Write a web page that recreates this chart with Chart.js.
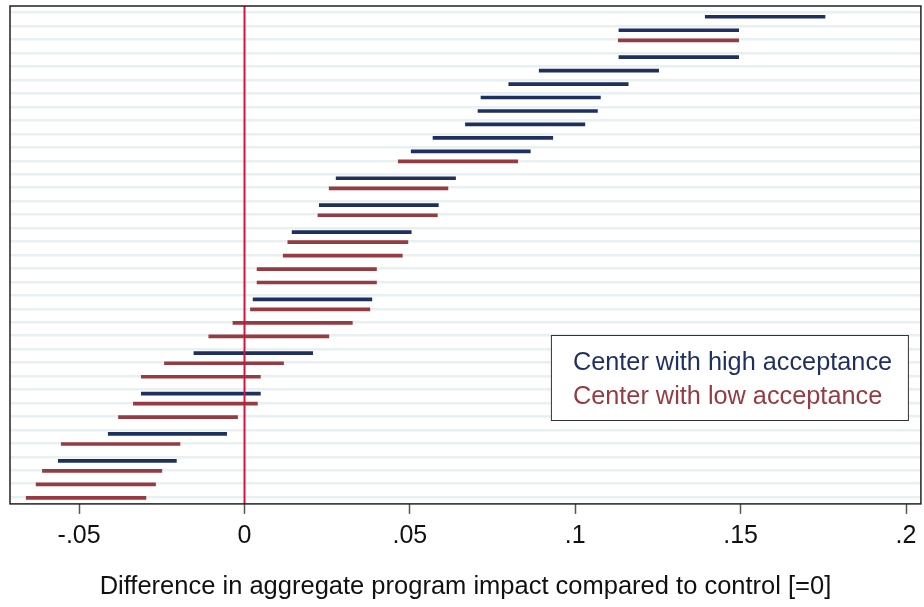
<!DOCTYPE html>
<html>
<head>
<meta charset="utf-8">
<script src="https://cdn.jsdelivr.net/npm/chart.js@4.4.1/dist/chart.umd.min.js"></script>
<style>
  body { margin: 0; background: #fff; }
  #wrap { width: 924px; height: 607px; }
</style>
</head>
<body>
<div id="wrap"><canvas id="chart"></canvas></div>
<script>
// Row positions (0 = top) and interval ends
const highY  = [0.8, 1.8, 3.8, 4.8, 5.8, 6.8, 7.8, 8.8, 9.8, 10.8, 12.8, 14.8, 16.8, 21.8, 25.8, 28.8, 31.8, 33.8];
const highLo = [0.1393, 0.1132, 0.1132, 0.0891, 0.0799, 0.0715, 0.0706, 0.0668, 0.0570, 0.0504, 0.0277, 0.0226, 0.0144, 0.0026, -0.0153, -0.0312, -0.0412, -0.0563];
const highHi = [0.1755, 0.1494, 0.1494, 0.1252, 0.1160, 0.1076, 0.1067, 0.1029, 0.0932, 0.0864, 0.0638, 0.0586, 0.0504, 0.0385, 0.0206, 0.0048, -0.0054, -0.0206];

const lowY  = [2.55, 11.55, 13.55, 15.55, 17.55, 18.55, 19.55, 20.55, 22.55, 23.55, 24.55, 26.55, 27.55, 29.55, 30.55, 32.55, 34.55, 35.55, 36.55];
const lowLo = [0.1130, 0.0465, 0.0256, 0.0222, 0.0131, 0.0117, 0.0038, 0.0038, 0.0018, -0.0035, -0.0108, -0.0242, -0.0312, -0.0336, -0.0381, -0.0554, -0.0611, -0.0630, -0.0660];
const lowHi = [0.1494, 0.0826, 0.0615, 0.0583, 0.0494, 0.0477, 0.0399, 0.0399, 0.0379, 0.0326, 0.0255, 0.0118, 0.0048, 0.0039, -0.0021, -0.0195, -0.0250, -0.0269, -0.0298];

const tickValues = [-0.05, 0, 0.05, 0.1, 0.15, 0.2];
const tickLabels = ['-.05', '0', '.05', '.1', '.15', '.2'];

const NAVY = '#1f2f5e';
const MAROON = '#963b42';
const FONT = "'Liberation Sans', Arial, sans-serif";

function rows(ys, lo, hi) {
    return ys.map((y, i) => ({ x: [lo[i], hi[i]], y: y }));
}

// zero line, plot frame and the boxed legend
const decorations = {
    id: 'decorations',
    afterDatasetsDraw(chart) {
        const ctx = chart.ctx;
        const area = chart.chartArea;
        const x0 = chart.scales.x.getPixelForValue(0);
        ctx.save();
        ctx.strokeStyle = '#d2143f';
        ctx.lineWidth = 2;
        ctx.beginPath();
        ctx.moveTo(x0, area.top);
        ctx.lineTo(x0, area.bottom);
        ctx.stroke();

        ctx.strokeStyle = '#222';
        ctx.lineWidth = 1.5;
        ctx.strokeRect(area.left, area.top, area.right - area.left, area.bottom - area.top);

        const bx = area.right - 370, by = area.top + 329, bw = 357, bh = 85;
        ctx.fillStyle = '#fff';
        ctx.fillRect(bx, by, bw, bh);
        ctx.strokeStyle = '#333';
        ctx.lineWidth = 1;
        ctx.strokeRect(bx + 0.5, by + 0.5, bw, bh);
        ctx.font = '25.3px ' + FONT;
        ctx.textBaseline = 'alphabetic';
        chart.data.datasets.forEach((ds, i) => {
            ctx.fillStyle = ds.backgroundColor;
            ctx.fillText(ds.label, bx + 22, by + 35 + i * 34);
        });
        ctx.restore();
    }
};

new Chart(document.getElementById('chart'), {
    type: 'bar',
    data: {
        datasets: [
            {
                label: 'Center with high acceptance',
                data: rows(highY, highLo, highHi),
                backgroundColor: NAVY,
                barThickness: 3,
                grouped: false
            },
            {
                label: 'Center with low acceptance',
                data: rows(lowY, lowLo, lowHi),
                backgroundColor: MAROON,
                barThickness: 3,
                grouped: false
            }
        ]
    },
    options: {
        indexAxis: 'y',
        responsive: true,
        maintainAspectRatio: false,
        animation: false,
        layout: { padding: { left: 10, right: 3, top: 6, bottom: 4.5 } },
        plugins: {
            legend: { display: false },
            tooltip: { enabled: false }
        },
        scales: {
            x: {
                type: 'linear',
                min: -0.0709,
                max: 0.2045,
                afterBuildTicks: function(scale) {
                    scale.ticks = tickValues.map(v => ({ value: v }));
                },
                ticks: {
                    color: '#111',
                    font: { size: 25, family: FONT },
                    padding: 7.5,
                    maxRotation: 0,
                    callback: function(value, index) {
                        return tickLabels[index];
                    }
                },
                grid: {
                    drawOnChartArea: false,
                    tickLength: 10,
                    tickColor: '#555',
                    tickWidth: 1.5
                },
                border: { display: false },
                title: {
                    display: true,
                    text: 'Difference in aggregate program impact compared to control [=0]',
                    color: '#111',
                    font: { size: 25.5, family: FONT },
                    padding: { top: 13, bottom: 0 }
                }
            },
            y: {
                type: 'linear',
                reverse: true,
                offset: false,
                min: 0,
                max: 37,
                ticks: { display: false, stepSize: 1 },
                grid: {
                    drawTicks: false,
                    color: '#e9f0f2',
                    lineWidth: 2.5
                },
                border: { display: false }
            }
        }
    },
    plugins: [decorations]
});
</script>
</body>
</html>
